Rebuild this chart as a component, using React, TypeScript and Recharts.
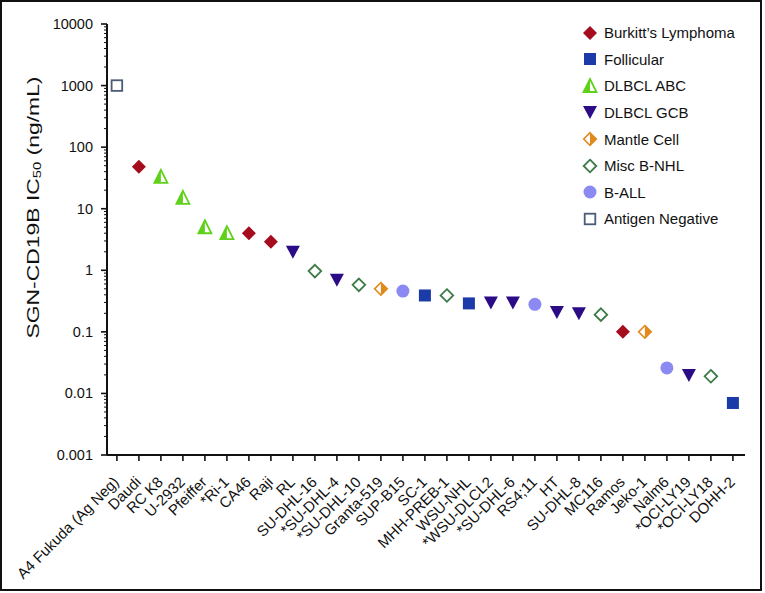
import { ScatterChart, Scatter, XAxis, YAxis, Legend, Label } from 'recharts';

const cellLines = [
  'A4 Fukuda (Ag Neg)', 'Daudi', 'RC K8', 'U-2932', 'Pfeiffer', '*Ri-1', 'CA46', 'Raji', 'RL',
  'SU-DHL-16', '*SU-DHL-4', '*SU-DHL-10', 'Granta-519', 'SUP-B15', 'SC-1', 'MHH-PREB-1',
  'WSU-NHL', '*WSU-DLCL2', '*SU-DHL-6', 'RS4;11', 'HT', 'SU-DHL-8', 'MC116', 'Ramos',
  'Jeko-1', 'Nalm6', '*OCI-LY19', '*OCI-LY18', 'DOHH-2',
];

const ic50 = [
  1000, 48, 33, 15, 5, 4, 4, 2.9, 2, 0.97, 0.7, 0.58, 0.5, 0.46, 0.39, 0.39,
  0.29, 0.3, 0.3, 0.28, 0.21, 0.2, 0.19, 0.1, 0.1, 0.026, 0.02, 0.019, 0.007,
];

const cellType = [
  'agneg', 'burkitt', 'abc', 'abc', 'abc', 'abc', 'burkitt', 'burkitt', 'gcb',
  'misc', 'gcb', 'misc', 'mantle', 'ball', 'follicular', 'misc',
  'follicular', 'gcb', 'gcb', 'ball', 'gcb', 'gcb', 'misc', 'burkitt',
  'mantle', 'ball', 'gcb', 'misc', 'follicular',
];

const groupKeys = ['burkitt', 'follicular', 'abc', 'gcb', 'mantle', 'misc', 'ball', 'agneg'];
const groupNames = [
  'Burkitt\u2019s Lymphoma', 'Follicular', 'DLBCL ABC', 'DLBCL GCB',
  'Mantle Cell', 'Misc B-NHL', 'B-ALL', 'Antigen Negative',
];
const groupColors = ['#a50d1e', '#1a3ba8', '#5fd11a', '#2b0b86', '#e0891c', '#3b7a45', '#8b8af2', '#4b5b78'];

const yTicks = [0.001, 0.01, 0.1, 1, 10, 100, 1000, 10000];
const yAllTicks = yTicks.flatMap((d, i) =>
  i === yTicks.length - 1 ? [d] : [1, 2, 3, 4, 5, 6, 7, 8, 9].map((k) => k * d)
);
const xTicks = cellLines.map((_, i) => i);

const FONT = '"Liberation Sans", Arial, Helvetica, sans-serif';
const INK = '#111';

function Marker({ kind, cx, cy, color }: { kind: string; cx: number; cy: number; color: string }) {
  switch (kind) {
    case 'burkitt':
      return <polygon points={`${cx},${cy - 7} ${cx + 7},${cy} ${cx},${cy + 7} ${cx - 7},${cy}`} fill={color} />;
    case 'follicular':
      return <rect x={cx - 6} y={cy - 6} width={12} height={12} fill={color} />;
    case 'abc':
      return (
        <g>
          <polygon points={`${cx},${cy - 7} ${cx + 6.5},${cy + 6} ${cx - 6.5},${cy + 6}`} fill="#fff" stroke={color} strokeWidth={1.8} strokeLinejoin="miter" />
          <polygon points={`${cx},${cy - 7} ${cx},${cy + 6} ${cx - 6.5},${cy + 6}`} fill={color} />
        </g>
      );
    case 'gcb':
      return <polygon points={`${cx - 7},${cy - 6} ${cx + 7},${cy - 6} ${cx},${cy + 7}`} fill={color} />;
    case 'mantle':
      return (
        <g>
          <polygon points={`${cx},${cy - 6.3} ${cx + 6.3},${cy} ${cx},${cy + 6.3} ${cx - 6.3},${cy}`} fill="#fff" stroke={color} strokeWidth={1.6} />
          <polygon points={`${cx},${cy - 6.3} ${cx + 6.3},${cy} ${cx},${cy + 6.3}`} fill={color} />
        </g>
      );
    case 'misc':
      return <polygon points={`${cx},${cy - 6.3} ${cx + 6.3},${cy} ${cx},${cy + 6.3} ${cx - 6.3},${cy}`} fill="#fff" stroke={color} strokeWidth={1.8} />;
    case 'ball':
      return <circle cx={cx} cy={cy} r={6.5} fill={color} />;
    default:
      return <rect x={cx - 5.3} y={cy - 5.3} width={10.6} height={10.6} fill="#fff" stroke={color} strokeWidth={1.8} />;
  }
}

const isMajor = (v: number) => Math.abs(Math.log10(v) - Math.round(Math.log10(v))) < 1e-6;

function YTick({ x, y, payload }: any) {
  const v = payload.value;
  const major = isMajor(v);
  return (
    <g>
      <line x1={x - (major ? 6 : 3)} x2={x} y1={y} y2={y} stroke={INK} strokeWidth={major ? 1.6 : 1} />
      {major && (
        <text x={x - 14} y={y} dy={5} textAnchor="end" fontFamily={FONT} fontSize={14.5} fill={INK}>
          {String(v)}
        </text>
      )}
    </g>
  );
}

function XTick({ x, y, payload }: any) {
  const ax = x + 3;
  const ay = y + 28;
  return (
    <g>
      <line x1={x} x2={x} y1={y} y2={y + 6} stroke={INK} strokeWidth={1.6} />
      <text x={ax} y={ay} transform={`rotate(-45, ${ax}, ${ay})`} textAnchor="end" fontFamily={FONT} fontSize={15} fill={INK}>
        {cellLines[payload.value]}
      </text>
    </g>
  );
}

function YLabel({ viewBox }: any) {
  const cx = viewBox.x + 11;
  const cy = viewBox.y + viewBox.height / 2 - 32;
  return (
    <text x={cx} y={cy} transform={`rotate(-90, ${cx}, ${cy})`} textAnchor="middle" dominantBaseline="central" fontFamily={FONT} fontSize={17} fill={INK} textLength={262} lengthAdjust="spacingAndGlyphs">
      SGN-CD19B IC<tspan dy={4} fontSize={11}>50</tspan>
      <tspan dy={-4}> (ng/mL)</tspan>
    </text>
  );
}

const renderLegend = () => (
  <div style={{ fontFamily: FONT, fontSize: 15, color: INK }}>
    {groupNames.map((name, i) => (
      <div key={name} style={{ display: 'flex', alignItems: 'center', height: 26.6 }}>
        <svg width={16} height={16} style={{ overflow: 'visible' }}>
          <Marker kind={groupKeys[i]} cx={8} cy={8} color={groupColors[i]} />
        </svg>
        <span style={{ marginLeft: 6, whiteSpace: 'nowrap' }}>{name}</span>
      </div>
    ))}
  </div>
);

export default function App() {
  return (
    <div style={{ width: 762, height: 591, border: `2px solid ${INK}`, boxSizing: 'border-box', background: '#fff', position: 'relative' }}>
      <style>{'body{margin:0;background:#fff}'}</style>
      <ScatterChart width={758} height={587} margin={{ top: 22, right: 15, left: 20, bottom: 14 }}>
        <XAxis
          type="number"
          dataKey="x"
          domain={[-0.45, 28.55]}
          ticks={xTicks}
          interval={0}
          height={120}
          tickSize={0}
          tickMargin={0}
          tickLine={false}
          axisLine={{ stroke: INK, strokeWidth: 2 }}
          tick={<XTick />}
        />
        <YAxis
          type="number"
          dataKey="y"
          scale="log"
          domain={[0.001, 10000]}
          allowDataOverflow
          ticks={yAllTicks}
          interval={0}
          width={85}
          tickSize={0}
          tickMargin={0}
          tickLine={false}
          axisLine={{ stroke: INK, strokeWidth: 2 }}
          tick={<YTick />}
        >
          <Label content={<YLabel />} />
        </YAxis>
        <Legend
          layout="vertical"
          align="center"
          verticalAlign="middle"
          content={renderLegend}
          wrapperStyle={{ top: 17.4, left: 580, width: 170, bottom: 'auto' }}
        />
        {groupKeys.map((g, gi) => (
          <Scatter
            key={g}
            name={groupNames[gi]}
            isAnimationActive={false}
            data={cellLines
              .map((name, i) => ({ x: i, y: ic50[i], name, type: cellType[i] }))
              .filter((d) => d.type === g)}
            shape={(p: any) => <Marker kind={g} cx={p.cx} cy={p.cy} color={groupColors[gi]} />}
          />
        ))}
      </ScatterChart>
    </div>
  );
}
